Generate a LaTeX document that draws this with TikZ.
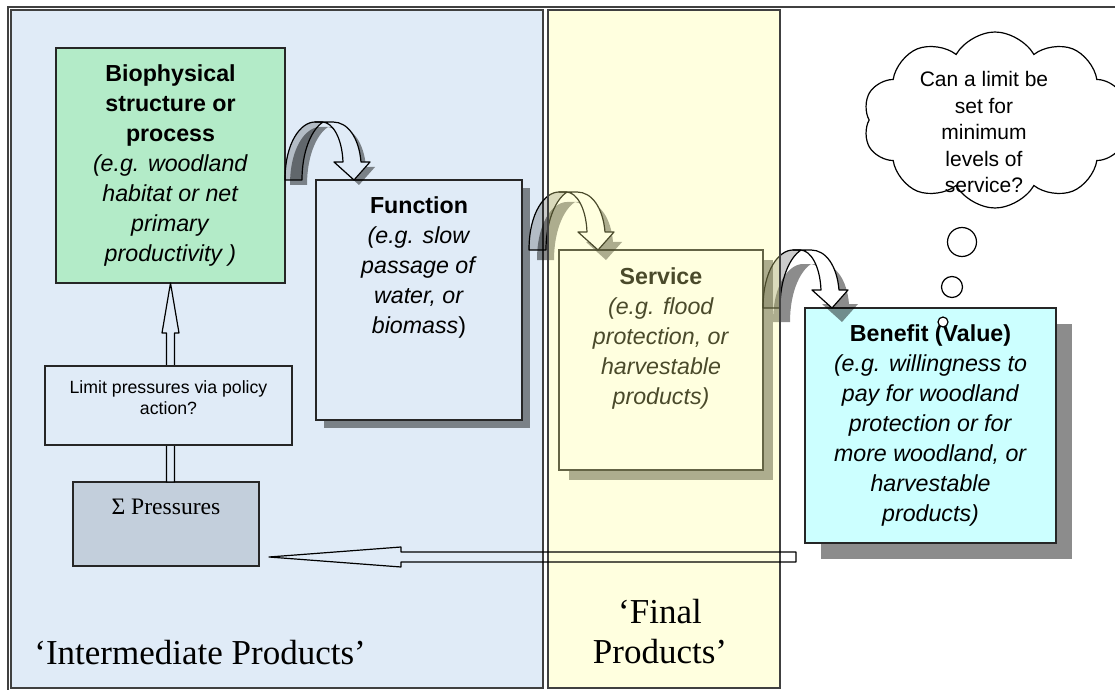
\documentclass[tikz,border=0pt]{standalone}
\usepackage{fontspec}
\setmainfont{Liberation Sans}
\newfontfamily\serifface{Liberation Serif}
\usetikzlibrary{shapes.symbols,shadows,calc,positioning}

\definecolor{panelblue}{RGB}{224,235,247}
\definecolor{mintgreen}{RGB}{179,235,200}
\definecolor{sigmagray}{RGB}{195,207,220}
\definecolor{palecyan}{RGB}{204,255,255}
\definecolor{yellowwash}{RGB}{255,255,148}
\definecolor{panelline}{RGB}{64,64,64}

\tikzset{
  panel/.style={draw=panelline,line width=0.6pt,inner sep=0pt,outer sep=0pt},
  box/.style={draw=black!85,line width=0.8pt,inner sep=0pt,outer sep=0pt,align=center,font=\fontsize{11.6}{15}\selectfont},
  boxtext/.style={inner sep=0pt,align=center,font=\fontsize{11.6}{15}\selectfont},
  boxshadow/.style={drop shadow={shadow xshift=#1,shadow yshift=-#1,fill=black,opacity=.45}},
  arrowline/.style={draw=black,line width=0.6pt,line join=round},
  arrowshade/.style={fill=black,opacity=.45},
}

\begin{document}
\begin{tikzpicture}[x=0.5pt,y=-0.5pt]
\useasboundingbox (0,0) rectangle (1115,690);
\fill[white] (0,0) rectangle (1115,690);
\draw[panelline,line width=0.6pt] (8,7) rectangle (1130,705);

\node[panel,fill=panelblue,minimum width=266pt,minimum height=339pt] (interm) at (277,349) {};

\node[box,fill=mintgreen,minimum width=114.5pt,minimum height=117.5pt] (bio) at (170.5,165.5)
  {\textbf{Biophysical}\\\textbf{structure or}\\\textbf{process}\\\textit{(e.g. woodland}\\\textit{habitat or net}\\\textit{primary}\\\textit{productivity )}};

\node[box,fill=panelblue,boxshadow=4pt,minimum width=103pt,minimum height=120pt] (func) at (419,300) {};
\node[boxtext,anchor=north] (functxt) at ([yshift=-8.3pt]func.north)
  {\textbf{Function}\\\textit{(e.g. slow}\\\textit{passage of}\\\textit{water, or}\\\textit{biomass})};

\node[box,fill=sigmagray,minimum width=93pt,minimum height=42pt] (press) at (166,524) {};
\node[inner sep=0pt,anchor=north,font=\serifface\fontsize{11.8}{14}\selectfont] (presstxt) at ([yshift=-8.5pt]press.north) {Σ Pressures};

\draw[arrowline,fill=panelblue] (bio.south) -- ++(8.5,50) -- ++(-4.5,0) -- ($(press.north)+(8.5,0)$)
  -- ($(press.north)+(0.5,0)$) -- ($(bio.south)+(-4,50)$) -- ++(-4.5,0) -- cycle;

\node[box,fill=panelblue,minimum width=123.5pt,minimum height=39.5pt] (limit) at (168.5,405.5) {};
\node[boxtext,anchor=north,font=\fontsize{8.85}{10.5}\selectfont] (limittxt) at ([yshift=-7.3pt]limit.north)
  {Limit pressures via policy\\action?};

\node[box,fill=white,boxshadow=5pt,minimum width=102pt,minimum height=110pt] (serv) at (661,360) {};
\node[boxtext,anchor=north] (servtxt) at ([yshift=-8.8pt]serv.north)
  {\textbf{Service}\\\textit{(e.g. flood}\\\textit{protection, or}\\\textit{harvestable}\\\textit{products)}};

\node[box,fill=palecyan,boxshadow=8pt,minimum width=125.5pt,minimum height=117.5pt] (ben) at (930.5,425.5)
  {\textbf{Benefit (Value)}\\\textit{(e.g. willingness to}\\\textit{pay for woodland}\\\textit{protection or for}\\\textit{more woodland, or}\\\textit{harvestable}\\\textit{products)}};

\coordinate (c1) at (bio.east |- func.north);
\coordinate (c2) at ($(func.east |- serv.north)+(7,0)$);
\coordinate (c3) at (serv.east |- ben.north);

% bent arrows: shadow, front ribbon, then the see-through back
\foreach \c/\sx/\sy/\face in {c1/5/5/panelblue,c2/8/10/white,c3/10/14/white}{
  \begin{scope}[shift={(\c)}]
    \begin{scope}[shift={(\sx,\sy)}]
      \fill[arrowshade] (0,0) .. controls (0,-38) and (16,-58) .. (30,-58) -- (48,-58)
        .. controls (63,-58) and (74,-42) .. (76,-18) -- (85,-18) -- (69,0) -- (49,-18) -- (58,-18)
        .. controls (57,-42) and (48,-57) .. (38,-58) .. controls (26,-50) and (17,-28) .. (17,0) -- cycle;
    \end{scope}
    \filldraw[arrowline,fill=\face] (30,-58) -- (48,-58) .. controls (63,-58) and (74,-42) .. (76,-18)
      -- (85,-18) -- (69,0) -- (49,-18) -- (58,-18) .. controls (57,-42) and (48,-57) .. (38,-58) -- cycle;
    \filldraw[arrowline,fill=black,fill opacity=.2] (0,0) .. controls (0,-38) and (16,-58) .. (30,-58)
      -- (38,-58) .. controls (26,-50) and (17,-28) .. (17,0) -- cycle;
  \end{scope}
}

\node[panel,fill=yellowwash,fill opacity=.29,minimum width=116pt,minimum height=339pt] (finalpanel) at (664,349) {};

\draw[arrowline] ($(press.south east)+(10,-9)$) coordinate (tip) -- ($(tip)+(132,-10)$) -- ($(tip)+(132,-5)$)
  -- ($(ben.south west)+(-9,9)$) -- ($(ben.south west)+(-9,19)$) -- ($(tip)+(132,5)$) -- ($(tip)+(132,10)$) -- cycle;

\node[inner sep=0pt,align=center,font=\serifface\fontsize{17.5}{20}\selectfont] (finaltxt) at (660,632) {‘Final\\Products’};
\node[inner sep=0pt,anchor=west,font=\serifface\fontsize{17.5}{20}\selectfont] (intertxt) at (34,653) {‘Intermediate Products’};

\node[cloud,draw=black,fill=white,line width=0.6pt,cloud puffs=10,cloud puff arc=120,aspect=1.5,
  minimum width=132pt,minimum height=88pt,inner sep=0pt] (thought) at (995,120) {};
\node[boxtext,font=\fontsize{10.5}{13.25}\selectfont] (thoughttxt) at (984,132)
  {Can a limit be\\set for\\minimum\\levels of\\service?};

\node[circle,draw=black,fill=white,line width=0.6pt,inner sep=0pt,minimum size=14.5pt] (bub1) at (962,242) {};
\node[circle,draw=black,fill=white,line width=0.6pt,inner sep=0pt,minimum size=10.5pt] (bub2) at (952,287) {};
\node[circle,draw=black,fill=white,line width=0.6pt,inner sep=0pt,minimum size=5pt] (bub3) at (943,322) {};
\end{tikzpicture}
\end{document}
